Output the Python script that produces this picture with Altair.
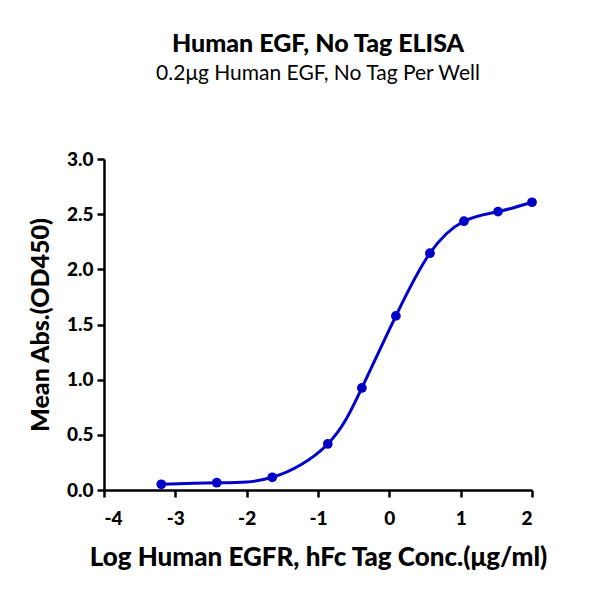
import altair as alt
import pandas as pd

log_conc = [-3.197, -2.419, -1.641, -0.863, -0.385, 0.092, 0.569, 1.046, 1.523, 2.0]
mean_abs = [0.052, 0.066, 0.115, 0.417, 0.925, 1.578, 2.146, 2.436, 2.523, 2.608]
x_ticks = [-4, -3, -2, -1, 0, 1, 2]
y_ticks = [0.0, 0.5, 1.0, 1.5, 2.0, 2.5, 3.0]

df = pd.DataFrame({"x": log_conc, "y": mean_abs})

FONT = "Lato"
BLUE = "#0000c8"
HEAVY = 900

x_enc = alt.X(
    "x:Q",
    scale=alt.Scale(domain=[-4, 2], nice=False),
    axis=alt.Axis(
        values=x_ticks,
        labelExpr="'' + datum.value",
        title="Log Human EGFR, hFc Tag Conc.(μg/ml)",
        titleFontSize=26,
    ),
)
y_enc = alt.Y(
    "y:Q",
    scale=alt.Scale(domain=[0, 3], nice=False),
    axis=alt.Axis(values=y_ticks, format=".1f", title="Mean Abs.(OD450)", titleFontSize=25),
)

line = alt.Chart(df).mark_line(
    interpolate="natural", color=BLUE, strokeWidth=3
).encode(x=x_enc, y=y_enc)
pts = alt.Chart(df).mark_circle(size=95, color=BLUE, opacity=1).encode(x="x:Q", y="y:Q")

chart = (
    alt.layer(line, pts)
    .properties(
        width=428,
        height=331,
        autosize=alt.AutoSizeParams(type="none"),
        padding={"left": 104, "top": 159, "right": 68, "bottom": 110},
        title=alt.TitleParams(
            text="Human EGF, No Tag ELISA",
            subtitle="0.2μg Human EGF, No Tag Per Well",
            anchor="middle",
            font=FONT,
            fontSize=25,
            fontWeight=HEAVY,
            color="black",
            subtitleFont=FONT,
            subtitleFontSize=21,
            subtitleColor="black",
            subtitlePadding=6,
            offset=66,
        ),
    )
    .configure_view(stroke=None)
    .configure_axis(
        grid=False,
        domainColor="black",
        domainWidth=2.5,
        tickColor="black",
        tickWidth=2.5,
        tickSize=7,
        labelFont=FONT,
        labelFontSize=19,
        labelFontWeight=HEAVY,
        labelColor="black",
        titleFont=FONT,
        titleFontWeight=HEAVY,
        titleColor="black",
    )
    .configure_axisX(labelPadding=12, titlePadding=16)
    .configure_axisY(labelPadding=4, titlePadding=13)
)

chart.save("out.html", embed_options={"renderer": "svg", "actions": False})
